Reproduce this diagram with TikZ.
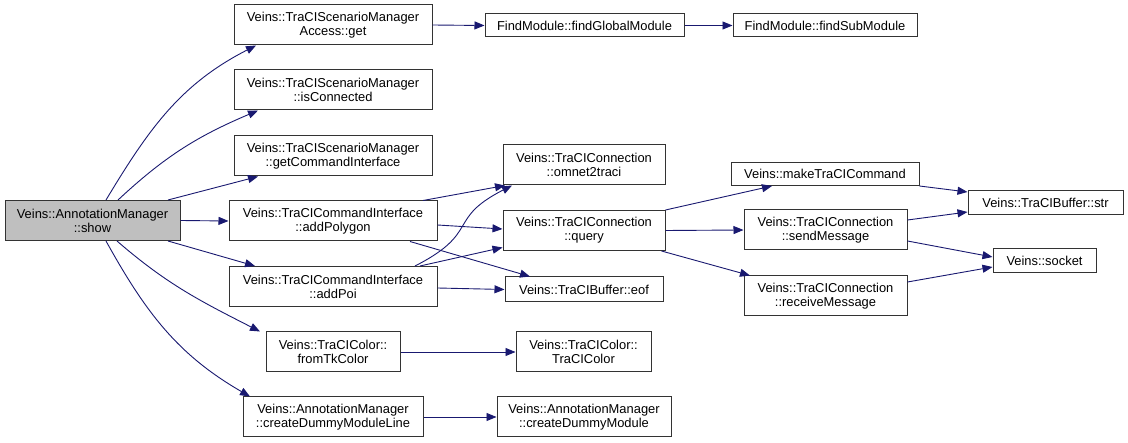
\documentclass[tikz,border=0pt]{standalone}
\usepackage{fontspec}
\setmainfont{Liberation Sans}
\usetikzlibrary{arrows.meta}
\definecolor{edgeblue}{HTML}{191970}
\definecolor{rootgray}{HTML}{BFBFBF}

\begin{document}
\begin{tikzpicture}[
  x=1pt, y=1pt,
  font=\fontsize{12.9}{14}\selectfont,
  >={Triangle[length=10pt, width=8pt]},
  fn/.style={draw=black!80, line width=1pt, align=center, inner sep=0pt,
             minimum height=40pt, fill=white},
  fnone/.style={fn, minimum height=23pt},
  root/.style={fn, fill=rootgray},
  call/.style={->, line width=0.9pt, draw=edgeblue},
]
\useasboundingbox (0,0) rectangle (1128,-443);

% ---- Root ----
\node[root, minimum width=175pt] (show) at (92.5,-220.5) {Veins::AnnotationManager\\::show};
% ---- Column 1 : direct callees ----
\node[fn, minimum width=198pt]    (get)       at (333,-25)    {Veins::TraCIScenarioManager\\Access::get};
\node[fn, minimum width=198pt]    (isconn)    at (333,-90)    {Veins::TraCIScenarioManager\\::isConnected};
\node[fn, minimum width=198pt]    (getcmd)    at (333,-156)   {Veins::TraCIScenarioManager\\::getCommandInterface};
\node[fn, minimum width=208pt]    (addpoly)   at (333,-221)   {Veins::TraCICommandInterface\\::addPolygon};
\node[fn, minimum width=208pt]    (addpoi)    at (333,-286.5) {Veins::TraCICommandInterface\\::addPoi};
\node[fn, minimum width=134pt]    (fromtk)    at (333,-352)   {Veins::TraCIColor::\\fromTkColor};
\node[fn, minimum width=180pt]    (dummyline) at (333,-417)   {Veins::AnnotationManager\\::createDummyModuleLine};
% ---- Column 2 ----
\node[fnone, minimum width=199pt] (findglobal) at (584.5,-25.5) {FindModule::findGlobalModule};
\node[fn, minimum width=162pt]    (omnet)      at (584,-165)    {Veins::TraCIConnection\\::omnet2traci};
\node[fn, minimum width=162pt]    (query)      at (584,-230.5)  {Veins::TraCIConnection\\::query};
\node[fnone, minimum width=158pt, minimum height=25pt] (eof) at (584,-289.5) {Veins::TraCIBuffer::eof};
\node[fn, minimum width=135pt]    (tracicolor) at (583.5,-352)  {Veins::TraCIColor::\\TraCIColor};
\node[fn, minimum width=174pt]    (dummy)      at (584,-417)    {Veins::AnnotationManager\\::createDummyModule};
% ---- Column 3 ----
\node[fnone, minimum width=184pt] (findsub)   at (825,-25.5)  {FindModule::findSubModule};
\node[fnone, minimum width=188pt] (maketraci) at (825,-174)   {Veins::makeTraCICommand};
\node[fn, minimum width=163pt]    (send)      at (825.5,-230) {Veins::TraCIConnection\\::sendMessage};
\node[fn, minimum width=163pt]    (recv)      at (825.5,-296) {Veins::TraCIConnection\\::receiveMessage};
% ---- Column 4 ----
\node[fnone, minimum width=155pt, minimum height=24pt] (str)    at (1045.5,-203) {Veins::TraCIBuffer::str};
\node[fnone, minimum width=103pt, minimum height=24pt] (socket) at (1044.5,-261) {Veins::socket};

% ---- Calls out of the root ----
\draw[call] ([xshift=13.5]show.north) to[out=59, in=207] ([xshift=-77]get.south);
\draw[call] ([xshift=25.5]show.north) to[out=43, in=203] ([xshift=-75]isconn.south);
\draw[call] ([xshift=75.5]show.north) -- ([xshift=-75]getcmd.south);
\draw[call] (show.east) -- (addpoly.west);
\draw[call] ([xshift=75.5]show.south) -- ([xshift=-78]addpoi.north);
\draw[call] ([xshift=24.5]show.south) to[out=-41, in=153] ([xshift=-73]fromtk.north);
\draw[call] ([xshift=13.5]show.south) to[out=-61, in=150] ([xshift=-83]dummyline.north);

% ---- Second level ----
\draw[call] (get.east) -- (findglobal.west);
\draw[call] (findglobal) -- (findsub);
\draw[call] ([xshift=90]addpoly.north) -- ([xshift=-79]omnet.south);
\draw[call] ([yshift=-4]addpoly.east) -- ([yshift=1.5]query.west);
\draw[call] ([xshift=77]addpoly.south) -- ([xshift=-54]eof.north);
\draw[call] ([xshift=82]addpoi.north) to[out=27, in=207, looseness=1.5] ([xshift=-72]omnet.south);
\draw[call] ([xshift=87]addpoi.north) -- ([yshift=-17]query.west);
\draw[call] ([yshift=-1.5]addpoi.east) -- (eof.west);
\draw[call] (fromtk) -- (tracicolor);
\draw[call] (dummyline) -- (dummy);

% ---- Connection internals ----
\draw[call] (query.north east) -- ([xshift=-53]maketraci.south);
\draw[call] (query.east) -- (send.west);
\draw[call] ([xshift=-4]query.south east) -- ([xshift=-75.5]recv.north);
\draw[call] (maketraci.south east) -- ([yshift=11]str.west);
\draw[call] ([yshift=10]send.east) -- ([yshift=-9]str.west);
\draw[call] ([yshift=-11]send.east) -- ([yshift=4]socket.west);
\draw[call] ([yshift=14]recv.east) -- ([yshift=-6]socket.west);
\end{tikzpicture}
\end{document}
